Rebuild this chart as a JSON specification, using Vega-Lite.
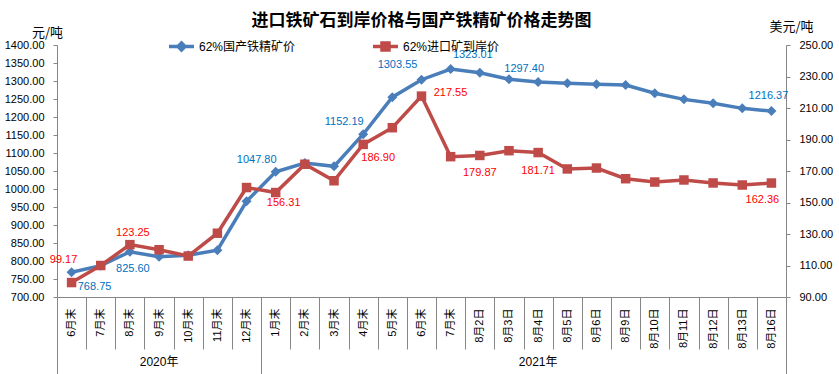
{
  "$schema": "https://vega.github.io/schema/vega-lite/v6.json",
  "width": 729,
  "height": 252,
  "autosize": {"type": "none"},
  "padding": {"left": 57, "top": 45, "right": 53, "bottom": 77},
  "config": {
    "view": {"stroke": null},
    "font": "'Liberation Sans', 'Noto Sans CJK SC'",
    "axis": {"grid": false, "domainColor": "#868686", "tickColor": "#868686", "labelColor": "#000000", "labelFontSize": 11, "labelFont": "'Liberation Sans', 'Noto Sans CJK SC'", "titleFont": "'Noto Sans CJK SC'", "titleFontWeight": "normal", "titleFontSize": 13, "titleColor": "#000000"}
  },
  "title": {"text": "进口铁矿石到岸价格与国产铁精矿价格走势图", "font": "'Noto Sans CJK SC'", "fontSize": 17, "fontWeight": "bold", "color": "#000000", "anchor": "middle", "frame": "group", "offset": -10},
  "data": {"values": [
    {"k": "2020-6月末", "dom": 768.75, "imp": 99.17},
    {"k": "2020-7月末", "dom": 787, "imp": 110},
    {"k": "2020-8月末", "dom": 825.60, "imp": 123.25},
    {"k": "2020-9月末", "dom": 812, "imp": 120},
    {"k": "2020-10月末", "dom": 816, "imp": 116},
    {"k": "2020-11月末", "dom": 830, "imp": 130.5},
    {"k": "2020-12月末", "dom": 966, "imp": 159.5},
    {"k": "2021-1月末", "dom": 1047.80, "imp": 156.31},
    {"k": "2021-2月末", "dom": 1072, "imp": 174.3},
    {"k": "2021-3月末", "dom": 1063, "imp": 163.8},
    {"k": "2021-4月末", "dom": 1152.19, "imp": 186.90},
    {"k": "2021-5月末", "dom": 1255, "imp": 197.5},
    {"k": "2021-6月末", "dom": 1303.55, "imp": 217.55},
    {"k": "2021-7月末", "dom": 1333, "imp": 179.1},
    {"k": "2021-8月2日", "dom": 1323.01, "imp": 179.87},
    {"k": "2021-8月3日", "dom": 1305, "imp": 182.9},
    {"k": "2021-8月4日", "dom": 1297.40, "imp": 181.71},
    {"k": "2021-8月5日", "dom": 1293.5, "imp": 171.3},
    {"k": "2021-8月6日", "dom": 1291, "imp": 171.9},
    {"k": "2021-8月9日", "dom": 1289, "imp": 165.1},
    {"k": "2021-8月10日", "dom": 1266, "imp": 163.0},
    {"k": "2021-8月11日", "dom": 1249, "imp": 164.3},
    {"k": "2021-8月12日", "dom": 1238, "imp": 162.4},
    {"k": "2021-8月13日", "dom": 1224, "imp": 161.1},
    {"k": "2021-8月16日", "dom": 1216.37, "imp": 162.36}
  ]},
  "layer": [
    {
      "encoding": {
        "x": {"field": "k", "type": "ordinal", "sort": null, "bandPosition": 0.5,
          "scale": {"type": "band", "paddingInner": 0, "paddingOuter": 0},
          "axis": {"title": null, "labelExpr": "datum.value ? slice(datum.value, 5) : ''", "labelAngle": -90, "labelAlign": "right", "labelBaseline": "middle", "labelOverlap": false, "tickBand": "extent",
            "labelPadding": {"condition": {"test": "datum.index === -1 || datum.value === '2020-12月末' || datum.value === '2021-8月16日'", "value": -67}, "value": -41},
            "tickSize": {"condition": {"test": "datum.index === -1 || datum.value === '2020-12月末' || datum.value === '2021-8月16日'", "value": 78}, "value": 52}}},
        "y": {"field": "dom", "type": "quantitative",
          "scale": {"domain": [700, 1400], "zero": false, "nice": false},
          "axis": {"title": "元/吨", "titleAngle": 0, "titleX": -10, "titleY": -13, "titleAlign": "center", "titleBaseline": "middle", "values": [700,750,800,850,900,950,1000,1050,1100,1150,1200,1250,1300,1350,1400], "format": ".2f", "tickSize": 4, "labelPadding": 9}}
      },
      "layer": [
        {"mark": {"type": "line", "strokeWidth": 3.5},
         "encoding": {"color": {"datum": "62%国产铁精矿价", "type": "nominal",
           "scale": {"domain": ["62%国产铁精矿价", "62%进口矿到岸价"], "range": ["#4A7EBB", "#BE4B48"]},
           "legend": {"title": null, "orient": "none", "legendX": 110, "legendY": -13, "direction": "horizontal", "columnPadding": 70, "labelFontSize": 12, "labelFont": "'Liberation Sans', 'Noto Sans CJK SC'", "labelColor": "#000000", "labelOffset": 3, "symbolSize": 625, "symbolStrokeWidth": 3.5,
             "encode": {"symbols": {"update": {
               "shape": {"signal": "datum.value === '62%国产铁精矿价' ? 'M-1,0L1,0M0,-0.28L0.28,0L0,0.28L-0.28,0Z' : 'M-1,0L1,0M-0.28,-0.28L0.28,-0.28L0.28,0.28L-0.28,0.28Z'"},
               "fill": {"signal": "datum.value === '62%国产铁精矿价' ? '#4A7EBB' : '#BE4B48'"},
               "stroke": {"signal": "datum.value === '62%国产铁精矿价' ? '#4A7EBB' : '#BE4B48'"}}}}}}}},
        {"mark": {"type": "point", "shape": "diamond", "filled": true, "size": 100, "opacity": 1, "color": "#4A7EBB"}},
        {"transform": [{"filter": {"field": "k", "oneOf": ["2020-6月末"]}}], "mark": {"type": "text", "color": "#0070C0", "fontSize": 11, "dx": 23, "dy": 15}, "encoding": {"text": {"field": "dom", "format": ".2f"}}},
        {"transform": [{"filter": {"field": "k", "oneOf": ["2020-8月末"]}}], "mark": {"type": "text", "color": "#0070C0", "fontSize": 11, "dx": 3, "dy": 17}, "encoding": {"text": {"field": "dom", "format": ".2f"}}},
        {"transform": [{"filter": {"field": "k", "oneOf": ["2021-1月末", "2021-4月末"]}}], "mark": {"type": "text", "color": "#0070C0", "fontSize": 11, "dx": -19, "dy": -12}, "encoding": {"text": {"field": "dom", "format": ".2f"}}},
        {"transform": [{"filter": {"field": "k", "oneOf": ["2021-6月末"]}}], "mark": {"type": "text", "color": "#0070C0", "fontSize": 11, "dx": -24, "dy": -15}, "encoding": {"text": {"field": "dom", "format": ".2f"}}},
        {"transform": [{"filter": {"field": "k", "oneOf": ["2021-8月2日"]}}], "mark": {"type": "text", "color": "#0070C0", "fontSize": 11, "dx": -7, "dy": -18}, "encoding": {"text": {"field": "dom", "format": ".2f"}}},
        {"transform": [{"filter": {"field": "k", "oneOf": ["2021-8月4日"]}}], "mark": {"type": "text", "color": "#0070C0", "fontSize": 11, "dx": -14, "dy": -13}, "encoding": {"text": {"field": "dom", "format": ".2f"}}},
        {"transform": [{"filter": {"field": "k", "oneOf": ["2021-8月16日"]}}], "mark": {"type": "text", "color": "#0070C0", "fontSize": 11, "dx": -3, "dy": -15}, "encoding": {"text": {"field": "dom", "format": ".2f"}}}
      ]
    },
    {
      "encoding": {
        "x": {"field": "k", "type": "ordinal", "sort": null, "bandPosition": 0.5,
          "scale": {"type": "band", "paddingInner": 0, "paddingOuter": 0},
          "axis": {"orient": "bottom", "title": null, "offset": 56, "ticks": false, "domain": false, "labelAngle": 0, "labelAlign": "center", "labelBaseline": "top", "labelPadding": 3, "labelFontSize": 12, "labelOverlap": false,
            "labelExpr": "datum.value === '2020-9月末' ? '2020年' : (datum.value === '2021-8月4日' ? '2021年' : '')",
            "encode": {"labels": {"update": {"dx": {"signal": "datum.value === '2021-8月4日' ? -13 : 0"}}}}}},
        "y": {"field": "imp", "type": "quantitative",
          "scale": {"domain": [90, 250], "zero": false, "nice": false},
          "axis": {"orient": "right", "title": "美元/吨", "titleAngle": 0, "titleX": 5, "titleY": -19, "titleAlign": "center", "titleBaseline": "middle", "values": [90,110,130,150,170,190,210,230,250], "format": ".2f", "tickSize": 4, "labelPadding": 9}}
      },
      "layer": [
        {"mark": {"type": "line", "strokeWidth": 3.5},
         "encoding": {"color": {"datum": "62%进口矿到岸价", "type": "nominal"}}},
        {"mark": {"type": "point", "shape": "square", "filled": true, "size": 90, "opacity": 1, "color": "#BE4B48"}},
        {"transform": [{"filter": {"field": "k", "oneOf": ["2020-6月末"]}}], "mark": {"type": "text", "color": "#FF0000", "fontSize": 11, "dx": -8, "dy": -23}, "encoding": {"text": {"field": "imp", "format": ".2f"}}},
        {"transform": [{"filter": {"field": "k", "oneOf": ["2020-8月末"]}}], "mark": {"type": "text", "color": "#FF0000", "fontSize": 11, "dx": 3, "dy": -12}, "encoding": {"text": {"field": "imp", "format": ".2f"}}},
        {"transform": [{"filter": {"field": "k", "oneOf": ["2021-1月末"]}}], "mark": {"type": "text", "color": "#FF0000", "fontSize": 11, "dx": 8, "dy": 10}, "encoding": {"text": {"field": "imp", "format": ".2f"}}},
        {"transform": [{"filter": {"field": "k", "oneOf": ["2021-4月末"]}}], "mark": {"type": "text", "color": "#FF0000", "fontSize": 11, "dx": 15, "dy": 14}, "encoding": {"text": {"field": "imp", "format": ".2f"}}},
        {"transform": [{"filter": {"field": "k", "oneOf": ["2021-6月末"]}}], "mark": {"type": "text", "color": "#FF0000", "fontSize": 11, "dx": 29, "dy": -3}, "encoding": {"text": {"field": "imp", "format": ".2f"}}},
        {"transform": [{"filter": {"field": "k", "oneOf": ["2021-8月2日", "2021-8月4日"]}}], "mark": {"type": "text", "color": "#FF0000", "fontSize": 11, "dx": 0, "dy": 18}, "encoding": {"text": {"field": "imp", "format": ".2f"}}},
        {"transform": [{"filter": {"field": "k", "oneOf": ["2021-8月16日"]}}], "mark": {"type": "text", "color": "#FF0000", "fontSize": 11, "dx": -9, "dy": 17}, "encoding": {"text": {"field": "imp", "format": ".2f"}}}
      ]
    }
  ],
  "resolve": {"scale": {"x": "independent", "y": "independent"}, "axis": {"x": "independent", "y": "independent"}}
}
